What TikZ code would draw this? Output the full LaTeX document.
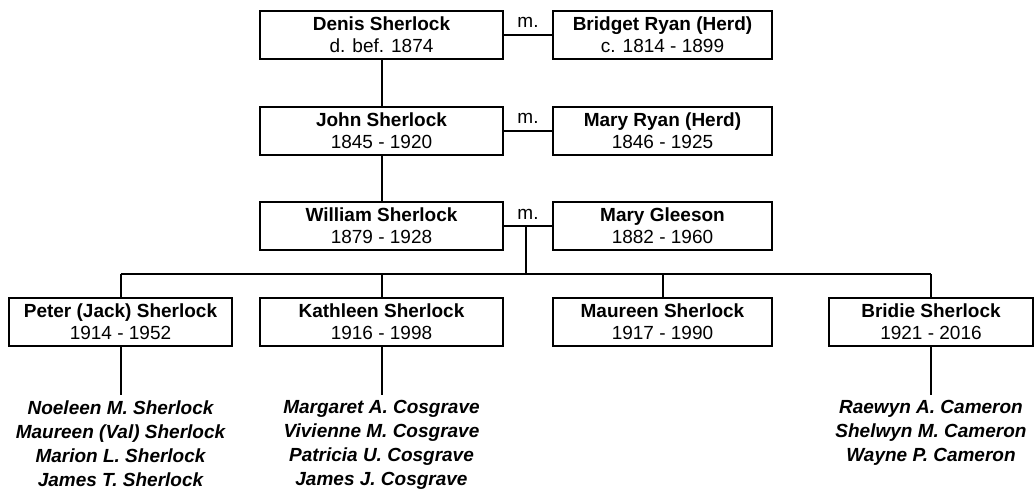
\documentclass[tikz,border=0pt]{standalone}
\usepackage{fontspec}
\setmainfont{Liberation Sans}
\usetikzlibrary{positioning}

\def\rowa{34.5}
\def\rowb{130.5}
\def\rowc{226}
\def\rowd{321.5}

\tikzset{
  person/.style={draw, line width=2pt, minimum height=48pt, inner sep=0pt,
    align=center, font=\fontsize{19}{22}\selectfont},
  kids/.style={align=center, inner xsep=0pt, inner ysep=6pt,
    font=\fontsize{19}{24}\selectfont\bfseries\itshape},
  link/.style={line width=2pt},
  wed/.style={font=\fontsize{19}{22}\selectfont}
}

\begin{document}
\begin{tikzpicture}[x=1pt,y=-1pt]
        \useasboundingbox (0,0) rectangle (1034,491);
        % first generation
        \node[person, minimum width=243pt] (denis) at (381.5,\rowa) {\textbf{Denis Sherlock}\\d. bef. 1874};
        \node[person, minimum width=219pt] (bridget) at (662.5,\rowa) {\textbf{Bridget Ryan (Herd)}\\c. 1814 - 1899};
        \draw[link] (denis) -- (bridget);
        \node[wed] (wedA) at (528,\rowa-12) {m.};
        % second generation
        \node[person, minimum width=243pt] (john) at (381.5,\rowb) {\textbf{John Sherlock}\\1845 - 1920};
        \node[person, minimum width=219pt] (maryryan) at (662.5,\rowb) {\textbf{Mary Ryan (Herd)}\\1846 - 1925};
        \draw[link] (john) -- (maryryan);
        \node[wed] (wedB) at (528,\rowb-12) {m.};
        \draw[link] (denis) -- (john);
        % third generation
        \node[person, minimum width=243pt] (william) at (381.5,\rowc) {\textbf{William Sherlock}\\1879 - 1928};
        \node[person, minimum width=219pt] (gleeson) at (662.5,\rowc) {\textbf{Mary Gleeson}\\1882 - 1960};
        \draw[link] (william) -- (gleeson);
        \node[wed] (wedC) at (528,\rowc-12) {m.};
        \draw[link] (john) -- (william);
        % children of William and Mary
        \node[person, minimum width=223pt] (peter) at (120.5,\rowd) {\textbf{Peter (Jack) Sherlock}\\1914 - 1952};
        \node[person, minimum width=243pt] (kathleen) at (381.5,\rowd) {\textbf{Kathleen Sherlock}\\1916 - 1998};
        \node[person, minimum width=219pt] (maureen) at (662.5,\rowd) {\textbf{Maureen Sherlock}\\1917 - 1990};
        \node[person, minimum width=204pt] (bridie) at (931,\rowd) {\textbf{Bridie Sherlock}\\1921 - 2016};
        \coordinate (wedmid) at (526,\rowc);
        \coordinate (bar) at (526,274);
        \draw[link] (wedmid) -- (bar);
        \draw[link] (peter.north |- bar) -- (bridie.north |- bar);
        \foreach \kid in {peter,kathleen,maureen,bridie}
            \draw[link] (\kid.north |- bar) -- (\kid);
        % grandchildren
        \node[kids, below=48pt of peter] (peterkids) {Noeleen M. Sherlock\\Maureen (Val) Sherlock\\Marion L. Sherlock\\James T. Sherlock};
        \node[kids, below=48pt of kathleen] (kathkids) {Margaret A. Cosgrave\\Vivienne M. Cosgrave\\Patricia U. Cosgrave\\James J. Cosgrave};
        \node[kids, below=48pt of bridie] (bridiekids) {Raewyn A. Cameron\\Shelwyn M. Cameron\\Wayne P. Cameron};
        \draw[link] (peter) -- (peterkids);
        \draw[link] (kathleen) -- (kathkids);
        \draw[link] (bridie) -- (bridiekids);
    \end{tikzpicture}
\end{document}
